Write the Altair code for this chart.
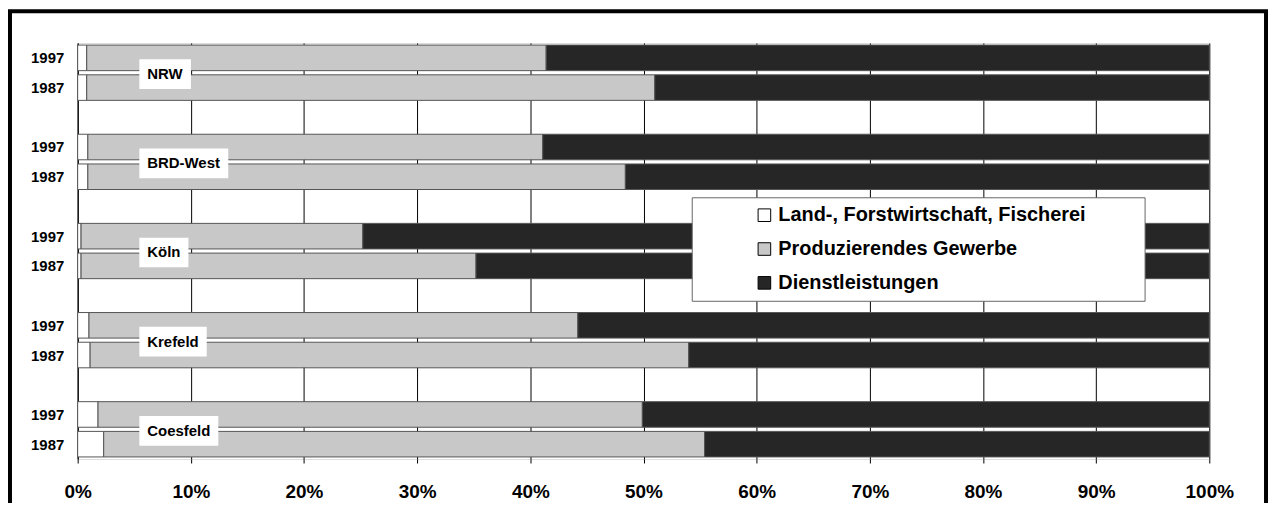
import altair as alt
import pandas as pd

# ---------------- data ----------------
regions = ["NRW", "BRD-West", "Köln", "Krefeld", "Coesfeld"]
years = ["1997", "1987"]
sectors = ["Land-, Forstwirtschaft, Fischerei", "Produzierendes Gewerbe", "Dienstleistungen"]

land_1997 = [0.8, 0.9, 0.3, 1.0, 1.8]
prod_1997 = [40.6, 40.2, 24.9, 43.2, 48.1]
dienst_1997 = [58.6, 58.9, 74.8, 55.8, 50.1]

land_1987 = [0.8, 0.9, 0.3, 1.1, 2.3]
prod_1987 = [50.2, 47.5, 34.9, 52.9, 53.1]
dienst_1987 = [49.0, 51.6, 64.8, 46.0, 44.6]

x_ticks = [0, 10, 20, 30, 40, 50, 60, 70, 80, 90, 100]

# ---------------- styles ----------------
FONT = "Liberation Sans"
W, H = 1137, 418
N_ROWS = len(regions) * 3 - 1
BAR_HALF = 0.43
LABEL_X = 5.45          # left edge of region label boxes (percent axis)
LABEL_PAD = 8           # px padding inside label boxes
LABEL_SIZE = 15
colors = ["#ffffff", "#c8c8c8", "#262626"]

# Arial/Liberation Sans Bold advance widths (1/1000 em)
BOLD_W = {"N": 722, "R": 722, "W": 944, "B": 722, "D": 722, "-": 333, "e": 556,
          "s": 556, "t": 333, "K": 722, "ö": 611, "l": 278, "n": 611, "r": 389,
          "f": 333, "d": 611, "C": 722, "o": 611}

def text_px(s, size):
    return sum(BOLD_W.get(c, 600) for c in s) * size / 1000.0

# ---------------- tables ----------------
series = {
    "1997": [land_1997, prod_1997, dienst_1997],
    "1987": [land_1987, prod_1987, dienst_1987],
}
bar_rows = []
for gi, reg in enumerate(regions):
    for yi, yr in enumerate(years):
        center = gi * 3 + yi + 0.5
        start = 0.0
        for si, sec in enumerate(sectors):
            v = series[yr][si][gi]
            bar_rows.append({"region": reg, "year": yr, "sector": sec, "order": si,
                             "center": center, "x0": start, "x1": start + v, "value": v})
            start += v
bars_df = pd.DataFrame(bar_rows)

label_rows = []
for gi, reg in enumerate(regions):
    boundary = gi * 3 + 1.0
    box_w_pct = (text_px(reg, LABEL_SIZE) + 2 * LABEL_PAD) * 100.0 / W
    label_rows.append({"region": reg, "mid": boundary + 0.05, "lo": boundary - 0.45,
                       "hi": boundary + 0.55, "bx0": LABEL_X, "bx1": LABEL_X + box_w_pct})
labels_df = pd.DataFrame(label_rows)

y_scale = alt.Scale(domain=[0, N_ROWS], reverse=True, nice=False, zero=False)
x_scale = alt.Scale(domain=[0, 100], nice=False, zero=False)

centers = sorted(bars_df["center"].unique().tolist())

bars = alt.Chart(bars_df).transform_calculate(
    ylo=alt.datum.center - BAR_HALF, yhi=alt.datum.center + BAR_HALF
).mark_rect(stroke="#555555", strokeWidth=1).encode(
    x=alt.X("x0:Q", scale=x_scale, title=None,
            axis=alt.Axis(values=x_ticks, labelExpr="datum.value + '%'", grid=True,
                          gridColor="#000000", gridOpacity=1, gridWidth=1,
                          domain=False, ticks=True, tickSize=4, tickColor="#000000",
                          labelFlush=False,
                          labelFont=FONT, labelFontSize=19, labelFontWeight="bold",
                          labelColor="#000000", labelPadding=20)),
    x2="x1:Q",
    y=alt.Y("ylo:Q", scale=y_scale, title=None,
            axis=alt.Axis(values=centers, grid=False, ticks=False, domain=True,
                          domainColor="#000000", domainWidth=1,
                          labelExpr=f"floor(datum.value) % 3 == 0 ? '{years[0]}' : '{years[1]}'",
                          labelFont=FONT, labelFontSize=15, labelFontWeight="bold",
                          labelColor="#000000", labelPadding=14)),
    y2="yhi:Q",
    color=alt.Color("sector:N", scale=alt.Scale(domain=sectors, range=colors),
                    legend=alt.Legend(title=".", titleOrient="right", titleOpacity=0,
                                      titleFontSize=2, titlePadding=50,
                                      orient="none", legendX=617, legendY=155,
                                      direction="vertical", symbolType="square",
                                      symbolSize=160, symbolStrokeColor="#000000",
                                      symbolStrokeWidth=1, symbolOffset=55,
                                      labelFont=FONT, labelFontSize=20,
                                      labelFontWeight="bold", labelColor="#000000",
                                      labelOffset=4, labelLimit=600, rowPadding=14,
                                      padding=8, fillColor="#ffffff",
                                      strokeColor="#666666")),
    order=alt.Order("order:Q"),
)

boxes = alt.Chart(labels_df).mark_rect(fill="#ffffff", stroke=None).encode(
    x=alt.X("bx0:Q", scale=x_scale), x2="bx1:Q",
    y=alt.Y("lo:Q", scale=y_scale), y2="hi:Q",
)

texts = alt.Chart(labels_df).mark_text(
    align="left", baseline="middle", dx=LABEL_PAD, font=FONT, fontSize=LABEL_SIZE,
    fontWeight="bold", color="#000000"
).encode(
    x=alt.X("bx0:Q", scale=x_scale),
    y=alt.Y("mid:Q", scale=y_scale),
    text="region:N",
)

frame = alt.Chart(pd.DataFrame({"f": [0]})).mark_rect(
    fillOpacity=0, stroke="#000000", strokeWidth=4
).encode(
    x=alt.value(-68), x2=alt.value(1194),
    y=alt.value(-32), y2=alt.value(480),
)

chart = alt.layer(bars, boxes, texts, frame).properties(
    width=W, height=H,
    autosize=alt.AutoSizeParams(type="none"),
    padding={"left": 70, "top": 34, "right": 60, "bottom": 43},
).configure_view(stroke=None).configure(background="#ffffff")

chart.save("out.html", embed_options={"renderer": "svg", "actions": False})
